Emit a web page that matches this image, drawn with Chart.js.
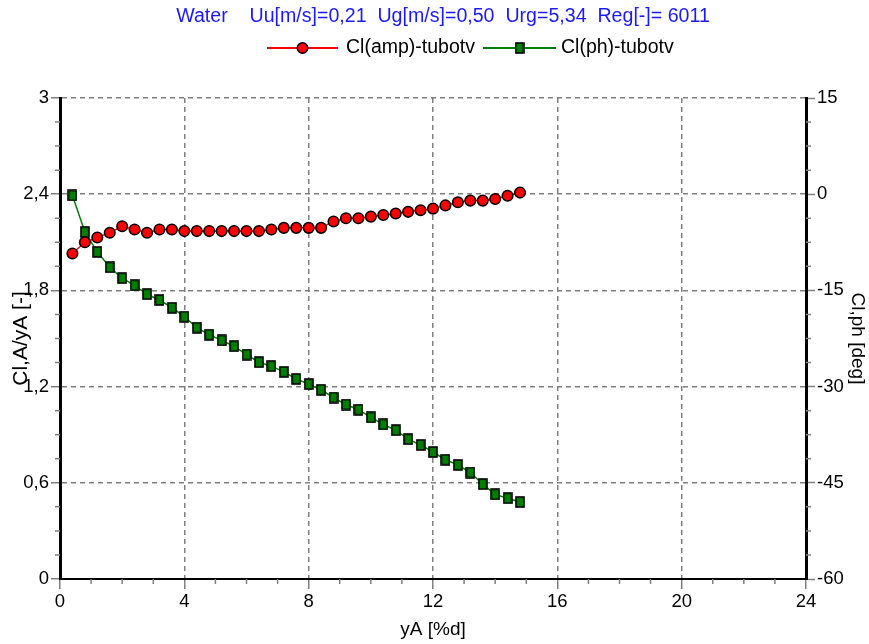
<!DOCTYPE html>
<html>
<head>
<meta charset="utf-8">
<script src="https://cdn.jsdelivr.net/npm/chart.js@4/dist/chart.umd.min.js"></script>
<style>
  html, body { margin: 0; padding: 0; background: #fff; }
  #wrap { width: 869px; height: 644px; }
</style>
</head>
<body>
<div id="wrap"><canvas id="c" width="869" height="644"></canvas></div>
<script>
// data
const yA = [0.4, 0.8, 1.2, 1.6, 2.0, 2.4, 2.8, 3.2, 3.6, 4.0, 4.4, 4.8, 5.2, 5.6, 6.0, 6.4, 6.8, 7.2, 7.6,
  8.0, 8.4, 8.8, 9.2, 9.6, 10.0, 10.4, 10.8, 11.2, 11.6, 12.0, 12.4, 12.8, 13.2, 13.6, 14.0, 14.4, 14.8];
const clAmp = [2.03, 2.10, 2.13, 2.16, 2.20, 2.18, 2.16, 2.18, 2.18, 2.17, 2.17, 2.17, 2.17, 2.17, 2.17, 2.17, 2.18, 2.19, 2.19,
  2.19, 2.19, 2.23, 2.25, 2.25, 2.26, 2.27, 2.28, 2.29, 2.30, 2.31, 2.33, 2.35, 2.36, 2.36, 2.37, 2.39, 2.41];
const clPh = [-0.2, -5.9, -9.0, -11.4, -13.1, -14.2, -15.6, -16.5, -17.7, -19.1, -20.8, -21.9, -22.8, -23.7, -25.0, -26.2, -26.8, -27.7, -28.8,
  -29.6, -30.5, -31.7, -32.8, -33.6, -34.8, -35.9, -36.8, -38.2, -39.1, -40.2, -41.4, -42.2, -43.4, -45.2, -46.8, -47.4, -48.0];
const seriesNames = ["Cl(amp)-tubotv", "Cl(ph)-tubotv"];
const titleText = "Water    Uu[m/s]=0,21  Ug[m/s]=0,50  Urg=5,34  Reg[-]= 6011";
const xTicks = [0, 4, 8, 12, 16, 20, 24];
const yTicks = [0, 0.6, 1.2, 1.8, 2.4, 3];
const y2Ticks = [-60, -45, -30, -15, 0, 15];

const FONT = "'Liberation Sans', Arial, sans-serif";
const GRID = "#808080";

// green square marker
const sq = document.createElement("canvas");
sq.width = 10; sq.height = 12;
(function () {
  const g = sq.getContext("2d");
  g.fillStyle = "#008000";
  g.fillRect(1, 1, 8, 10);
  g.strokeStyle = "#000";
  g.lineWidth = 1.6;
  g.strokeRect(1, 1, 8, 10);
})();

const fmt = v => String(Number(v.toFixed(2))).replace(".", ",");

const extras = {
  id: "extras",
  afterDraw(chart) {
    const ctx = chart.ctx;
    const x = chart.scales.x, y = chart.scales.y, y2 = chart.scales.y2;
    ctx.save();
    // minor ticks
    ctx.strokeStyle = GRID;
    ctx.lineWidth = 1.5;
    ctx.beginPath();
    for (let v = 0; v <= 24; v++) {
      if (v % 4 === 0) continue;
      const px = x.getPixelForValue(v);
      ctx.moveTo(px, x.top); ctx.lineTo(px, x.top + 5);
    }
    for (let i = 0; i <= 20; i++) {
      if (i % 4 === 0) continue;
      const py = y.getPixelForValue(i * 0.15);
      ctx.moveTo(y.right, py); ctx.lineTo(y.right - 5, py);
      const py2 = y2.getPixelForValue(-60 + i * 3.75);
      ctx.moveTo(y2.left, py2); ctx.lineTo(y2.left + 5, py2);
    }
    ctx.stroke();

    // title
    ctx.fillStyle = "#1a1aff";
    ctx.font = "19.6px " + FONT;
    ctx.textAlign = "center";
    ctx.textBaseline = "middle";
    ctx.fillText(titleText, 443, 17);

    // legend
    const ds = chart.data.datasets;
    const items = [{ x0: 267, x1: 338, tx: 346 }, { x0: 483, x1: 556, tx: 561 }];
    ctx.textAlign = "left";
    ctx.font = "19.5px " + FONT;
    items.forEach((it, i) => {
      const ly = 48;
      ctx.strokeStyle = ds[i].borderColor;
      ctx.lineWidth = 2;
      ctx.beginPath(); ctx.moveTo(it.x0, ly); ctx.lineTo(it.x1, ly); ctx.stroke();
      const mx = (it.x0 + it.x1) / 2;
      if (i === 0) {
        ctx.beginPath(); ctx.arc(mx, ly, 5.3, 0, Math.PI * 2);
        ctx.fillStyle = ds[0].pointBackgroundColor; ctx.fill();
        ctx.strokeStyle = "#000"; ctx.lineWidth = 1.5; ctx.stroke();
      } else {
        ctx.drawImage(sq, mx - 5, ly - 6);
      }
      ctx.fillStyle = "#000";
      ctx.fillText(ds[i].label, it.tx, ly);
    });
    ctx.restore();
  }
};

new Chart(document.getElementById("c"), {
  type: "line",
  data: {
    datasets: [
      {
        label: seriesNames[0], yAxisID: "y",
        data: yA.map((v, i) => ({ x: v, y: clAmp[i] })),
        borderColor: "#ff0000", borderWidth: 1.5,
        pointStyle: "circle", pointRadius: 5.3,
        pointBackgroundColor: "#ff0000", pointBorderColor: "#000", pointBorderWidth: 1.5
      },
      {
        label: seriesNames[1], yAxisID: "y2",
        data: yA.map((v, i) => ({ x: v, y: clPh[i] })),
        borderColor: "#008000", borderWidth: 1.5,
        pointStyle: sq, pointRadius: 5
      }
    ]
  },
  options: {
    responsive: false, animation: false, events: [],
    layout: { padding: { top: 98, left: 0, right: 0, bottom: 0 } },
    plugins: { legend: { display: false }, title: { display: false }, tooltip: { enabled: false } },
    scales: {
      x: {
        type: "linear", min: 0, max: 24,
        afterBuildTicks: s => { s.ticks = xTicks.map(v => ({ value: v })); },
        afterFit: s => { s.height = 65; },
        ticks: { color: "#000", font: { family: FONT, size: 18.5 }, padding: 2, maxRotation: 0, callback: v => fmt(v) },
        grid: { color: GRID, lineWidth: 1.5, tickColor: GRID, tickLength: 10, tickWidth: 1.5 },
        border: { color: "#000", width: 2, dash: [5, 4] },
        title: { display: true, text: "yA [%d]", color: "#000", font: { family: FONT, size: 19 }, padding: { top: 0, bottom: 3 } }
      },
      y: {
        position: "left", min: 0, max: 3,
        afterBuildTicks: s => { s.ticks = yTicks.map(v => ({ value: v })); },
        afterFit: s => { s.width = 60; },
        ticks: { color: "#000", font: { family: FONT, size: 18.5 }, padding: 2, callback: v => fmt(v) },
        grid: { color: GRID, lineWidth: 1.5, tickColor: GRID, tickLength: 9, tickWidth: 1.5 },
        border: { color: "#000", width: 3, dash: [5, 4] },
        title: { display: true, text: "Cl,A/yA [-]", color: "#000", font: { family: FONT, size: 21 }, padding: { top: 9, bottom: 0 } }
      },
      y2: {
        position: "right", min: -60, max: 15,
        afterBuildTicks: s => { s.ticks = y2Ticks.map(v => ({ value: v })); },
        afterFit: s => { s.width = 63; },
        ticks: { color: "#000", font: { family: FONT, size: 18.5 }, padding: 2, callback: v => fmt(v) },
        grid: { drawOnChartArea: false, tickColor: GRID, tickLength: 9, tickWidth: 1.5 },
        border: { color: "#000", width: 3 },
        title: { display: true, text: "Cl,ph [deg]", color: "#000", font: { family: FONT, size: 19 }, padding: { top: 0, bottom: 0 } }
      }
    }
  },
  plugins: [extras]
});
</script>
</body>
</html>
